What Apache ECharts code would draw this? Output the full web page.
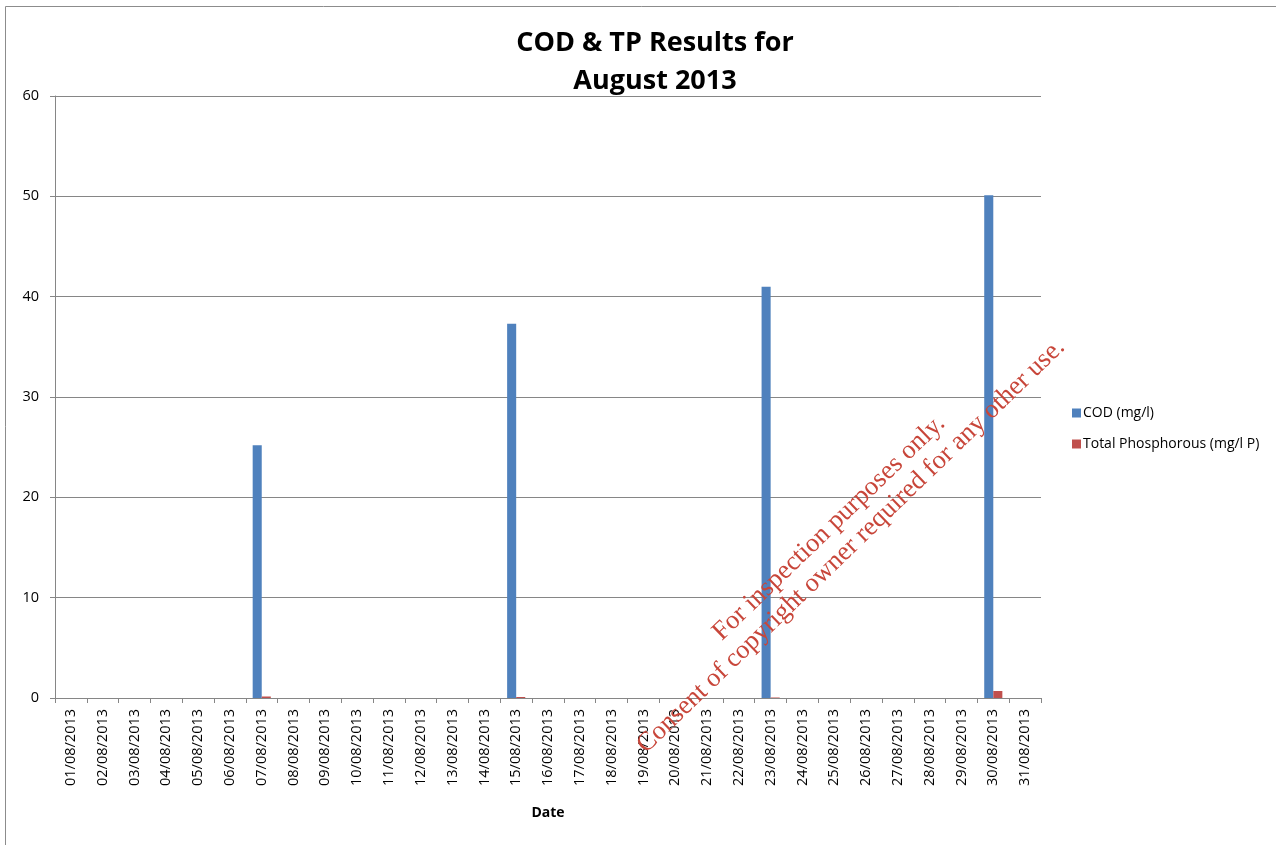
<!DOCTYPE html>
<html>
<head>
<meta charset="utf-8">
<script src="https://cdn.jsdelivr.net/npm/echarts@6/dist/echarts.min.js"></script>
<style>
  html, body { margin: 0; padding: 0; background: #fff; }
  #chart { width: 1276px; height: 845px; }
</style>
</head>
<body>
<div id="chart"></div>
<script>
var dates = [];
for (var d = 1; d <= 31; d++) {
  dates.push((d < 10 ? '0' + d : '' + d) + '/08/2013');
}
// COD and TP only sampled on a few days
var codValues = [null, null, null, null, null, null, 25.2, null, null, null, null, null, null, null, 37.3,
  null, null, null, null, null, null, null, 41.0, null, null, null, null, null, null, 50.1, null];
var tpValues = [null, null, null, null, null, null, 0.15, null, null, null, null, null, null, null, 0.1,
  null, null, null, null, null, null, null, 0.05, null, null, null, null, null, null, 0.7, null];
var yTicks = [0, 10, 20, 30, 40, 50, 60];

var font = 'Open Sans';
var chart = echarts.init(document.getElementById('chart'));
chart.setOption({
  animation: false,
  color: ['#4f81bd', '#c0504d'],
  title: {
    text: 'COD & TP Results for\nAugust 2013',
    left: 650,
    textAlign: 'center',
    top: 19,
    textStyle: { fontFamily: font, fontSize: 27, fontWeight: 'bold', color: '#000', lineHeight: 38 }
  },
  legend: {
    orient: 'vertical',
    left: 1067,
    top: 401,
    itemWidth: 9,
    itemHeight: 9,
    itemGap: 17,
    icon: 'rect',
    textStyle: { fontFamily: font, fontSize: 14, color: '#000', padding: [0, 0, 0, -3] },
    data: ['COD (mg/l)', 'Total Phosphorous (mg/l P)']
  },
  grid: { left: 55, right: 235, top: 96, bottom: 147 },
  xAxis: {
    type: 'category',
    data: dates,
    name: 'Date',
    nameLocation: 'middle',
    nameGap: 108,
    nameTextStyle: { fontFamily: font, fontSize: 14, fontWeight: 'bold', color: '#000' },
    axisLine: { lineStyle: { color: '#868686' } },
    axisTick: { show: true, length: 5, lineStyle: { color: '#868686' } },
    axisLabel: { rotate: 90, fontFamily: font, fontSize: 14.5, color: '#000', margin: 11, interval: 0 }
  },
  yAxis: {
    type: 'value',
    min: yTicks[0],
    max: yTicks[yTicks.length - 1],
    interval: 10,
    axisLine: { show: true, lineStyle: { color: '#868686' } },
    axisTick: { show: true, length: 5, lineStyle: { color: '#868686' } },
    axisLabel: { fontFamily: font, fontSize: 14.5, color: '#000', margin: 16 },
    splitLine: { lineStyle: { color: '#868686' } }
  },
  series: [
    { name: 'COD (mg/l)', type: 'bar', data: codValues, barGap: '0%', barCategoryGap: '43%' },
    { name: 'Total Phosphorous (mg/l P)', type: 'bar', data: tpValues, barGap: '0%', barCategoryGap: '43%' }
  ],
  graphic: [
    {
      type: 'rect', silent: true, z: -10,
      shape: { x: 5.5, y: 6.5, width: 1300, height: 900 },
      style: { fill: 'none', stroke: '#8c8c8c', lineWidth: 1 }
    },
    {
      type: 'text', silent: true, z: 100,
      x: 829, y: 528, rotation: 44 * Math.PI / 180,
      style: { text: 'For inspection purposes only.', font: '26.5px "Liberation Serif"', fill: '#c8463a', align: 'center', verticalAlign: 'middle' }
    },
    {
      type: 'text', silent: true, z: 100,
      x: 851, y: 546, rotation: 44 * Math.PI / 180,
      style: { text: 'Consent of copyright owner required for any other use.', font: '26.5px "Liberation Serif"', fill: '#c8463a', align: 'center', verticalAlign: 'middle' }
    }
  ]
});
</script>
</body>
</html>
